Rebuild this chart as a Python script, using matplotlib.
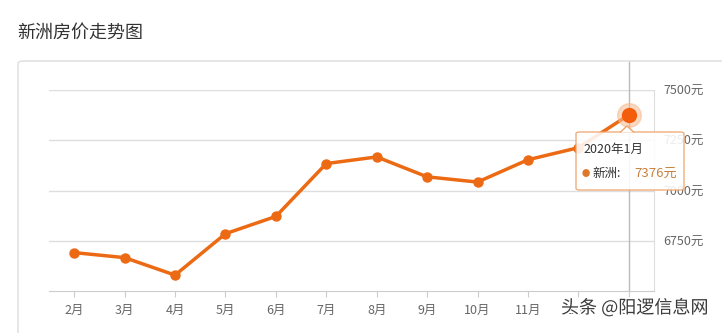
import matplotlib.pyplot as plt
from matplotlib.patches import FancyBboxPatch, Polygon
import matplotlib.patheffects as pe

plt.rcParams['font.family'] = ['Noto Sans CJK SC', 'DejaVu Sans']

months = ['2月', '3月', '4月', '5月', '6月', '7月', '8月', '9月', '10月', '11月', '12月', '1月']
prices = [6691, 6666, 6579, 6785, 6871, 7134, 7167, 7068, 7042, 7153, 7213, 7376]
y_ticks = [6750, 7000, 7250, 7500]
y_labels = ['6750元', '7000元', '7250元', '7500元']

W, H = 722, 333
LINE = '#ec6a14'


def fx(x):
    return x / W


def fy(y):
    return 1 - y / H


fig = plt.figure(figsize=(W / 100, H / 100), dpi=100)
fig.patch.set_facecolor('white')

# title and the card frame round the chart
fig.text(fx(17), fy(33), '新洲房价走势图', fontsize=13, color='#333333',
         ha='left', va='center')
card = FancyBboxPatch((fx(18), fy(345)), fx(720), fy(61) - fy(345),
                      boxstyle='round,pad=0,rounding_size=0.008',
                      transform=fig.transFigure, facecolor='none',
                      edgecolor='#e2e2e2', lw=1.2, zorder=-1)
fig.patches.append(card)

ax = fig.add_axes([fx(49), fy(291), fx(654) - fx(49), fy(90) - fy(291)])
ax.set_facecolor('none')
x = list(range(len(months)))

ax.set_xlim(-0.5, len(months) - 0.5)
ax.set_ylim(6500, 7500)

for v in y_ticks:
    ax.axhline(v, color='#dedede', lw=1, zorder=1)

for s in ['left', 'top']:
    ax.spines[s].set_visible(False)
ax.spines['bottom'].set_color('#cccccc')
ax.spines['right'].set_color('#dddddd')

ax.yaxis.tick_right()
ax.set_yticks(y_ticks)
ax.set_yticklabels(y_labels)
ax.tick_params(axis='y', length=0, pad=6.5, labelsize=9, labelcolor='#666666')
ax.set_xticks(x)
ax.set_xticklabels(months)
ax.tick_params(axis='x', length=4, color='#cccccc', pad=5, labelsize=9,
               labelcolor='#666666')

# crosshair on the hovered month
ax.axvline(x[-1], ymin=0, ymax=1.0, color='#bbbbbb', lw=1, zorder=2)
ax.plot([x[-1], x[-1]], [7500, 7640], color='#bbbbbb', lw=1, clip_on=False, zorder=2)

ax.plot(x, prices, color=LINE, lw=2.5, marker='o', ms=6.5, mfc=LINE, mec=LINE,
        zorder=3)
ax.plot(x[-1], prices[-1], 'o', ms=17, color='#f7b98f', alpha=0.55, zorder=4,
        clip_on=False)
ax.plot(x[-1], prices[-1], 'o', ms=10, color='#f25c0a', zorder=5, clip_on=False)

# tooltip
tip = FancyBboxPatch((fx(576), fy(190)), fx(684) - fx(576), fy(132) - fy(190),
                     boxstyle='round,pad=0,rounding_size=0.005',
                     transform=fig.transFigure, facecolor='white', alpha=0.88,
                     edgecolor='#f0a36a', lw=1, zorder=10)
fig.patches.append(tip)
arrow = Polygon([(fx(620), fy(132.5)), (fx(627), fy(126)), (fx(634), fy(132.5))],
                closed=False, transform=fig.transFigure, facecolor='white',
                edgecolor='#f0a36a', lw=1, zorder=11)
fig.patches.append(arrow)
fig.text(fx(583), fy(149), '2020年1月', fontsize=9, color='#333333',
         ha='left', va='center', zorder=12)
fig.text(fx(586), fy(173.5), '●', fontsize=6, color='#e0782a',
         ha='center', va='center', zorder=12)
fig.text(fx(592), fy(173.5), '新洲:', fontsize=9, color='#333333',
         ha='left', va='center', zorder=12)
fig.text(fx(634), fy(173.5), '%d元' % prices[-1], fontsize=9.5, color='#c8803c',
         ha='left', va='center', zorder=12)

# watermark
fig.text(fx(561), fy(308), '头条 @阳逻信息网', fontsize=13, color='#3a3a3a',
         ha='left', va='center', zorder=13,
         path_effects=[pe.withStroke(linewidth=2.5, foreground='white')])

fig.savefig('out.png', dpi=100, facecolor='white')
